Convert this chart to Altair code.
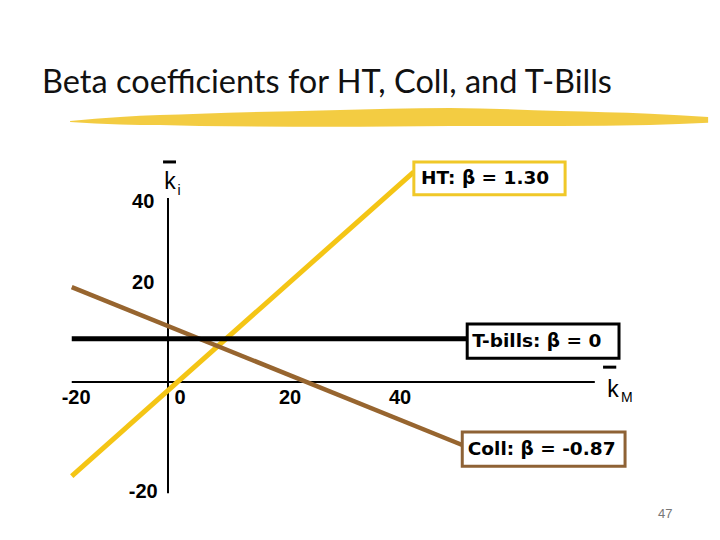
import altair as alt
import pandas as pd

# ---------------- data (chart units: x = k_M, y = k_i) ----------------
ht_x = [-17.5, 44.7]
ht_y = [-20.9, 46.7]
coll_x = [-17.5, 53.5]
coll_y = [21.1, -14.0]
tb_x = [-17.5, 54.4]
tb_y = [9.6, 9.6]

xaxis_x = [-17.5, 77.6]
yaxis_y = [-24.7, 40.9]

xtick_labels = ["-20", "0", "20", "40"]
xtick_pos = [-16.7, 2.2, 22.2, 42.2]
ytick_labels = ["40", "20", "-20"]
ytick_pos = [40.0, 22.0, -24.4]

box_labels = ["HT: β = 1.30", "T-bills: β = 0", "Coll: β = -0.87"]
box_x = [44.7, 54.4, 53.5]
box_x2 = [72.2, 82.0, 83.1]
box_y = [48.9, 12.9, -11.1]
box_y2 = [41.6, 5.3, -18.7]
box_text_x = [46.0, 55.3, 54.5]
box_text_y = [45.3, 9.1, -14.9]
box_colors = ["#F0C828", "#000000", "#8E6235"]

brush_x = [-17.8, -8.7, 5.8, 29.5, 51.3, 71.3, 87.6, 98.2]
brush_top = [58.0, 58.9, 59.6, 60.4, 60.9, 60.2, 59.6, 58.9]
brush_bot = [57.8, 57.2, 56.9, 56.7, 56.9, 56.9, 57.1, 57.6]

title_text = "Beta coefficients for HT, Coll, and T-Bills"
page_no = "47"

YELLOW = "#F4C515"
BROWN = "#97652F"

XS = alt.Scale(domain=[-29.09, 98.18], nice=False, zero=False)
YS = alt.Scale(domain=[-31.11, 83.11], nice=False, zero=False)


def X(field="x"):
    return alt.X(field, type="quantitative", scale=XS, axis=None)


def Y(field="y"):
    return alt.Y(field, type="quantitative", scale=YS, axis=None)


# brush stroke under title
brush = alt.Chart(pd.DataFrame({"x": brush_x, "y": brush_top, "y2": brush_bot})).mark_area(
    color="#F2C72E", opacity=0.9, interpolate="monotone"
).encode(x=X(), y=Y(), y2="y2")

title = alt.Chart(pd.DataFrame({"x": [-22.9], "y": [64.2], "t": [title_text]})).mark_text(
    align="left", baseline="alphabetic", font="Lato", fontSize=32.5, color="#111111"
).encode(x=X(), y=Y(), text="t")

# axes
xaxis = alt.Chart(pd.DataFrame({"x": [xaxis_x[0]], "x2": [xaxis_x[1]], "y": [0.0]})).mark_rule(
    color="black", strokeWidth=2
).encode(x=X(), x2="x2", y=Y())
yaxis = alt.Chart(pd.DataFrame({"x": [0.0], "y": [yaxis_y[0]], "y2": [yaxis_y[1]]})).mark_rule(
    color="black", strokeWidth=2
).encode(x=X(), y=Y(), y2="y2")

xt = alt.Chart(pd.DataFrame({"x": xtick_pos, "y": [-3.6] * 4, "t": xtick_labels})).mark_text(
    font="Liberation Sans", fontWeight="bold", fontSize=20, color="black", baseline="middle"
).encode(x=X(), y=Y(), text="t")
yt = alt.Chart(pd.DataFrame({"x": [-4.5] * 3, "y": ytick_pos, "t": ytick_labels})).mark_text(
    font="Liberation Sans", fontWeight="bold", fontSize=20, color="black", baseline="middle"
).encode(x=X(), y=Y(), text="t")

# axis names with overbars
kname = alt.Chart(pd.DataFrame({"x": [0.36, 80.9], "y": [44.4, -1.8], "t": ["k", "k"]})).mark_text(
    font="Liberation Sans", fontSize=23, color="black", baseline="middle"
).encode(x=X(), y=Y(), text="t")
ksub = alt.Chart(pd.DataFrame({"x": [2.0, 83.4], "y": [42.4, -3.6], "t": ["i", "M"]})).mark_text(
    font="Liberation Sans", fontSize=14, color="black", baseline="middle"
).encode(x=X(), y=Y(), text="t")
bars = alt.Chart(pd.DataFrame({"x": [-0.9, 79.1], "x2": [1.45, 81.5], "y": [48.9, 3.3]})).mark_rule(
    color="black", strokeWidth=3
).encode(x=X(), x2="x2", y=Y())

# lines
ht = alt.Chart(pd.DataFrame({"x": ht_x, "y": ht_y})).mark_line(color=YELLOW, strokeWidth=5).encode(x=X(), y=Y())
coll = alt.Chart(pd.DataFrame({"x": coll_x, "y": coll_y})).mark_line(color=BROWN, strokeWidth=4.5).encode(x=X(), y=Y())
tb = alt.Chart(pd.DataFrame({"x": tb_x, "y": tb_y})).mark_line(color="black", strokeWidth=5).encode(x=X(), y=Y())

# label boxes
bdf = pd.DataFrame({"x": box_x, "x2": box_x2, "y": box_y, "y2": box_y2, "c": box_colors, "t": box_labels,
                    "tx": box_text_x, "ty": box_text_y})
boxes = alt.Chart(bdf).mark_rect(fill="white", strokeWidth=3).encode(
    x=X(), x2="x2", y=Y(), y2="y2", stroke=alt.Stroke("c:N", scale=None)
)
btext = alt.Chart(bdf).mark_text(
    align="left", baseline="middle", font="DejaVu Sans", fontWeight="bold", fontSize=18.5, color="black"
).encode(x=X("tx"), y=Y("ty"), text="t")

pg = alt.Chart(pd.DataFrame({"x": [90.4], "y": [-29.3], "t": [page_no]})).mark_text(
    font="Liberation Sans", fontSize=13, color="#777777", baseline="middle"
).encode(x=X(), y=Y(), text="t")

chart = alt.layer(
    brush, title, xaxis, yaxis, xt, yt, kname, ksub, bars, ht, coll, tb, boxes, btext, pg
).properties(width=700, height=514, padding=0).configure_view(strokeWidth=0)

chart.save("out.html", embed_options={"renderer": "svg", "actions": False})
